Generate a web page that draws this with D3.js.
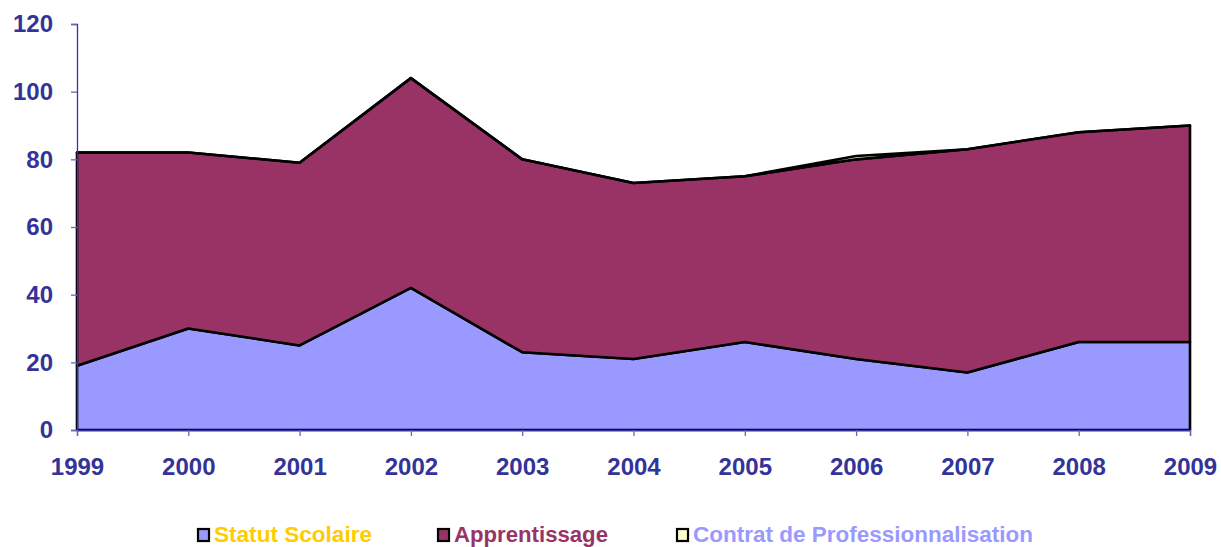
<!DOCTYPE html>
<html><head><meta charset="utf-8">
<script src="https://cdn.jsdelivr.net/npm/d3@7"></script>
<style>body{margin:0;background:#fff}svg{display:block}</style>
</head><body>
<svg id="c" width="1221" height="547"></svg>
<script>
const years = ["1999","2000","2001","2002","2003","2004","2005","2006","2007","2008","2009"];
const statutScolaire = [19,30,25,42,23,21,26,21,17,26,26];
const apprentissage = [63,52,54,62,57,52,49,59,66,62,64];
const contratPro = [0,0,0,0,0,0,0,1,0,0,0];
const seriesNames = ["Statut Scolaire","Apprentissage","Contrat de Professionnalisation"];
const fills = ["#9999FF","#993366","#FFFFCC"];
const textColors = ["#FFCC00","#993366","#9999FF"];
const yTicks = [0,20,40,60,80,100,120];

const svg = d3.select("#c");
const x = d3.scalePoint().domain(years).range([77,1190]);
const y = d3.scaleLinear().domain([0,120]).range([430,24]);
const axisColor = "#333399";
const font = "'Liberation Sans', Arial, sans-serif";

const table = years.map((yr,i)=>({year:yr, s:statutScolaire[i], a:apprentissage[i], c:contratPro[i]}));
const stack = d3.stack().keys(["s","a","c"])(table);
const area = d3.area().x(d=>x(d.data.year)).y0(d=>y(d[0])).y1(d=>y(d[1]));

svg.append("g").selectAll("path").data(stack).join("path")
  .attr("d", area).attr("fill",(d,i)=>fills[i])
  .attr("stroke","#000").attr("stroke-width",2.6).attr("stroke-linejoin","round");

// axes
const yAxis = svg.append("g").attr("transform","translate(77,0)")
  .call(d3.axisLeft(y).tickValues(yTicks).tickSize(6).tickPadding(18));
const xAxis = svg.append("g").attr("transform","translate(0,430)")
  .call(d3.axisBottom(x).tickSize(6).tickPadding(22));
[yAxis,xAxis].forEach(g=>{
  g.select(".domain").attr("stroke","#3333aa").attr("stroke-width",1.3);
  g.selectAll(".tick line").attr("stroke","#6666bb").attr("stroke-width",1.3);
  g.selectAll("text").attr("fill",axisColor).attr("font-family",font)
   .attr("font-weight","bold").attr("font-size",24);
});
yAxis.selectAll("text").attr("x",-24);

// legend
const legX = [198,438,677];
const legW = [158,154,340];
const leg = svg.append("g");
seriesNames.forEach((n,i)=>{
  leg.append("rect").attr("x",legX[i]).attr("y",529).attr("width",11).attr("height",12)
    .attr("fill",fills[i]).attr("stroke","#000").attr("stroke-width",2.2);
  leg.append("text").attr("x",legX[i]+16).attr("y",542).text(n)
    .attr("textLength",legW[i]).attr("lengthAdjust","spacingAndGlyphs")
    .attr("fill",textColors[i]).attr("font-family",font).attr("font-weight","bold").attr("font-size",22);
});
</script>
</body></html>
